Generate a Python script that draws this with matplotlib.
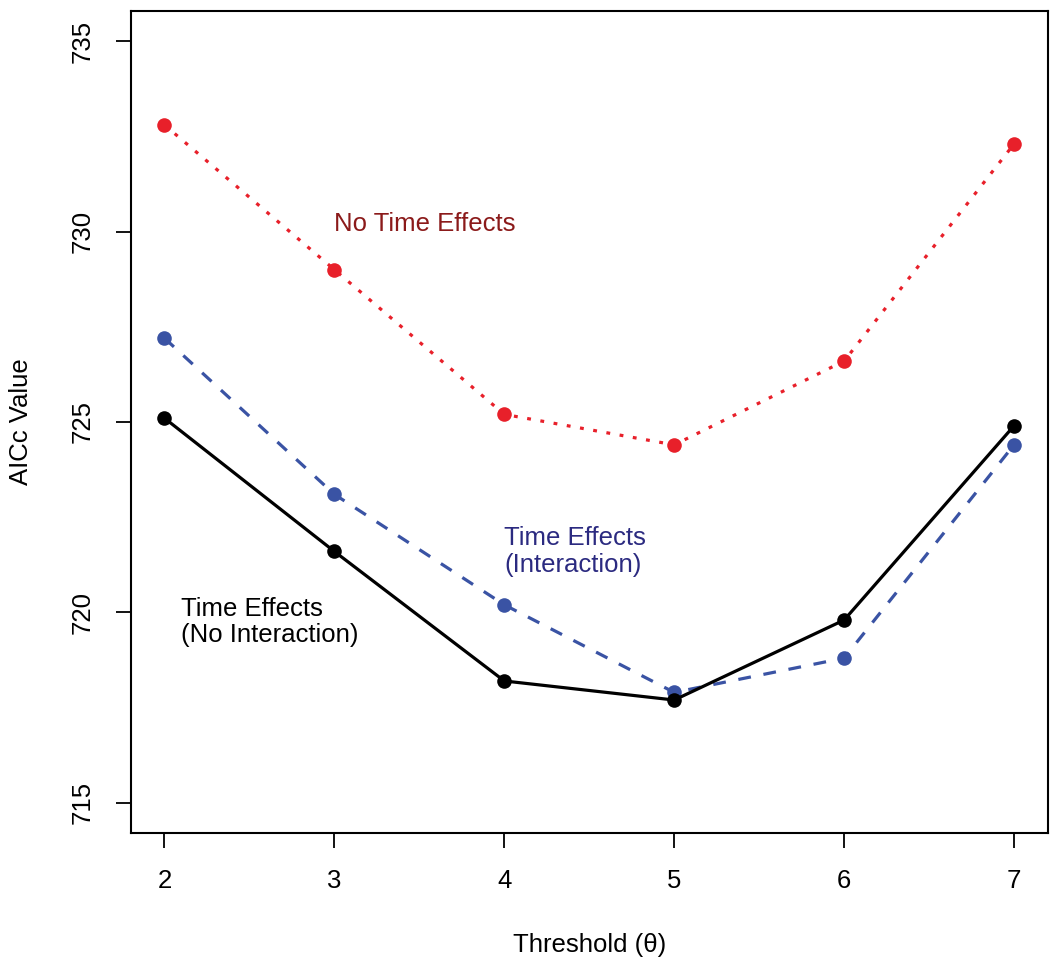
import matplotlib.pyplot as plt

plt.rcParams['font.family'] = ['Liberation Sans', 'DejaVu Sans']

threshold = [2, 3, 4, 5, 6, 7]
no_time = [732.8, 729.0, 725.2, 724.4, 726.6, 732.3]
time_interaction = [727.2, 723.1, 720.2, 717.9, 718.8, 724.4]
time_no_interaction = [725.1, 721.6, 718.2, 717.7, 719.8, 724.9]
y_ticks = [715, 720, 725, 730, 735]

fig = plt.figure(figsize=(10.5, 9.71), dpi=100)
ax = fig.add_axes([0.1243, 0.1418, 0.8738, 0.8472])

ax.plot(threshold, no_time, color='#e8202a', lw=2.3, dashes=(1.2, 3.0),
        marker='o', markersize=10.5, markeredgewidth=0)
ax.plot(threshold, time_interaction, color='#3a53a4', lw=2.3, dashes=(4, 4),
        marker='o', markersize=10.5, markeredgewidth=0)
ax.plot(threshold, time_no_interaction, color='black', lw=2.3,
        marker='o', markersize=10.5, markeredgewidth=0)

ax.text(3.0, 730.2, 'No Time Effects', color='#8b1a1a', fontsize=18.5,
        ha='left', va='center')
ax.text(4.0, 721.6, 'Time Effects\n(Interaction)', color='#2b2a80', fontsize=18.5,
        ha='left', va='center', multialignment='left', linespacing=1.15)
ax.text(2.1, 719.75, 'Time Effects\n(No Interaction)', color='black', fontsize=18.5,
        ha='left', va='center', multialignment='left', linespacing=1.15)

ax.set_xlim(1.8, 7.2)
ax.set_ylim(714.2, 735.8)
ax.set_xticks(threshold)
ax.set_yticks(y_ticks)
ax.set_yticklabels([str(v) for v in y_ticks], rotation=90, va='center')
ax.tick_params(axis='both', labelsize=18.5, length=11, width=1.3, pad=15)

ax.set_xlabel('Threshold (\u03b8)', fontsize=18.5)
ax.set_ylabel('AICc Value', fontsize=18.5)
ax.xaxis.set_label_coords(0.5, -0.121)
ax.yaxis.set_label_coords(-0.106, 0.5)

for s in ax.spines.values():
    s.set_linewidth(1.5)

fig.savefig('out.png', dpi=100)
